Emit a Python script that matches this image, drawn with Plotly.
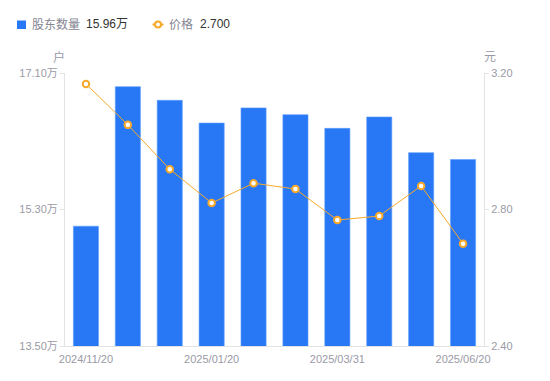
import plotly.graph_objects as go

dates = ["2024/11/20", "2024/11/30", "2024/12/31", "2025/01/20", "2025/02/10",
         "2025/02/28", "2025/03/31", "2025/04/30", "2025/05/31", "2025/06/20"]
holders = [15.08, 16.92, 16.74, 16.44, 16.64, 16.55, 16.37, 16.52, 16.05, 15.96]
price = [3.168, 3.048, 2.918, 2.819, 2.877, 2.860, 2.769, 2.781, 2.869, 2.700]
x_tick_labels = ["2024/11/20", "2025/01/20", "2025/03/31", "2025/06/20"]
left_ticks = [13.5, 15.3, 17.1]
right_ticks = [2.4, 2.8, 3.2]

FONT = "Arial, 'Liberation Sans', 'Noto Sans CJK SC', sans-serif"
BLUE = "#2878F5"
ORANGE = "#F7A92B"
GRAY = "#9a9aa6"
LEG_GRAY = "#858592"
DARK = "#333333"
AXIS = "#e3e3e3"

W, H = 550, 381
L, R, T, B = 65, 66, 73, 35
PW, PH = W - L - R, H - T - B


def px(x):
    return (x - L) / PW


def py(y):
    return (H - B - y) / PH


fig = go.Figure()
fig.add_trace(go.Bar(
    x=dates, y=holders, name="股东数量",
    marker=dict(color=BLUE, line=dict(color="#5f9dff", width=0.6)),
    yaxis="y", showlegend=False,
))
fig.add_trace(go.Scatter(
    x=dates, y=price, mode="lines+markers", name="价格",
    line=dict(color=ORANGE, width=1),
    marker=dict(size=6.5, color="white", line=dict(color=ORANGE, width=2)),
    yaxis="y2", showlegend=False,
))

# custom legend (top-left)
shapes = [
    dict(type="rect", xref="paper", yref="paper", x0=px(17), x1=px(26),
         y0=py(29), y1=py(20.5), fillcolor=BLUE, line=dict(width=0)),
    dict(type="line", xref="paper", yref="paper", x0=px(152.5), x1=px(163.5),
         y0=py(24.5), y1=py(24.5), line=dict(color=ORANGE, width=2)),
    dict(type="circle", xref="paper", yref="paper", x0=px(155), x1=px(161),
         y0=py(27.5), y1=py(21.5), fillcolor="white", line=dict(color=ORANGE, width=2)),
]

def ann(text, x, y, color, size=12, xanchor="left"):
    return dict(text=text, xref="paper", yref="paper", x=px(x), y=py(y),
                showarrow=False, xanchor=xanchor, yanchor="middle",
                font=dict(size=size, color=color, family=FONT))

annotations = [
    ann("股东数量", 30, 24.5, LEG_GRAY),
    ann("%.2f万" % holders[-1], 84, 24.5, DARK),
    ann("价格", 167, 24.5, LEG_GRAY),
    ann("%.3f" % price[-1], 198, 24.5, DARK),
    ann("户", 59, 57, GRAY, xanchor="center"),
    ann("元", 490, 57, GRAY, xanchor="center"),
]

fig.update_layout(
    width=W, height=H,
    margin=dict(l=L, r=R, t=T, b=B, autoexpand=False),
    paper_bgcolor="white", plot_bgcolor="white",
    font=dict(family=FONT, size=11, color=GRAY),
    bargap=0.4,
    showlegend=False,
    xaxis=dict(type="category", range=[-0.5, len(dates) - 0.5],
               tickmode="array", tickvals=x_tick_labels,
               ticktext=x_tick_labels, showgrid=False, showline=True,
               linecolor=AXIS, linewidth=1, ticks="", tickfont=dict(size=11, color=GRAY),
               ticklabelstandoff=3, automargin=False),
    yaxis=dict(range=[13.5, 17.1], tickmode="array", tickvals=left_ticks,
               ticktext=["%.2f万" % v for v in left_ticks], showgrid=False,
               showline=True, linecolor=AXIS, linewidth=1, ticks="outside",
               ticklen=4, tickcolor=AXIS, zeroline=False, automargin=False,
               tickfont=dict(size=11, color=GRAY)),
    yaxis2=dict(range=[2.4, 3.2], overlaying="y", side="right", tickmode="array",
                tickvals=right_ticks, ticktext=["%.2f" % v for v in right_ticks],
                showgrid=False, showline=True, linecolor=AXIS, linewidth=1,
                ticks="outside", ticklen=4, tickcolor=AXIS, zeroline=False,
                automargin=False, tickfont=dict(size=11, color=GRAY)),
    shapes=shapes,
    annotations=annotations,
)

fig.write_html("out.html", config={"displayModeBar": False},
               post_script="document.body.style.margin='0';document.body.style.overflow='hidden';")
